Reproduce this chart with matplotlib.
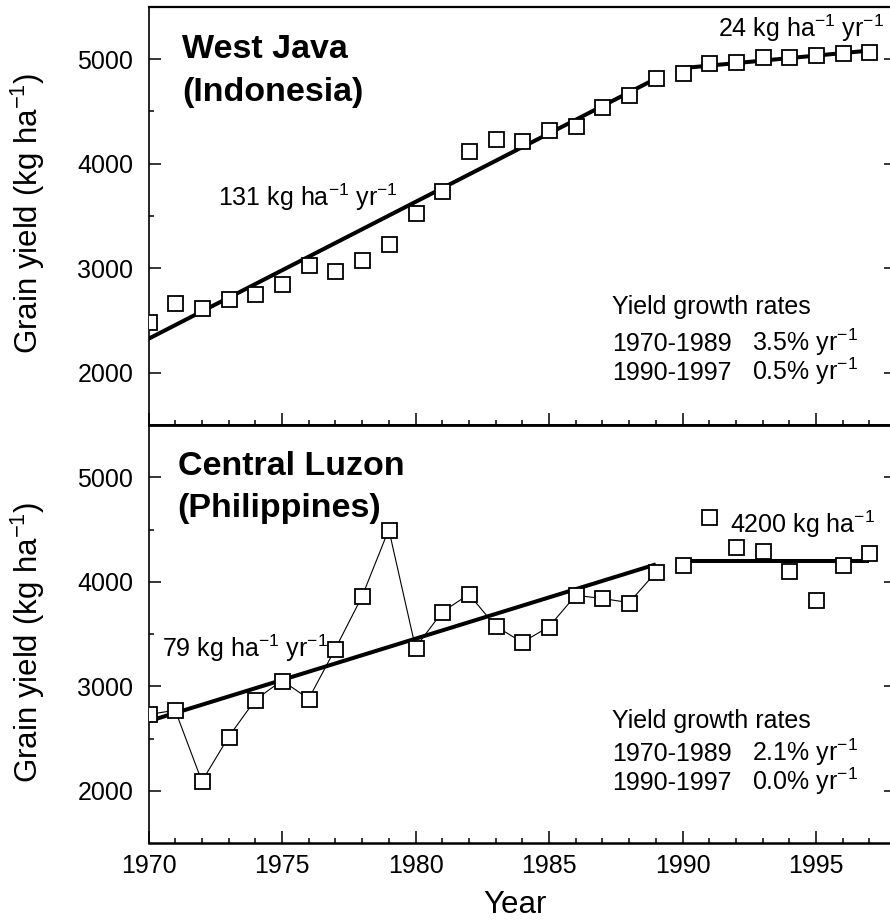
import matplotlib
matplotlib.use("Agg")
import matplotlib.pyplot as plt
from matplotlib.ticker import MultipleLocator, FixedLocator

plt.rcParams['font.family'] = ['Liberation Sans', 'DejaVu Sans']
plt.rcParams['mathtext.fontset'] = 'custom'
plt.rcParams['mathtext.rm'] = 'Liberation Sans'
plt.rcParams['mathtext.it'] = 'Liberation Sans'
plt.rcParams['mathtext.default'] = 'regular'

# data
years = list(range(1970, 1998))

java_yield = [2490, 2670, 2620, 2710, 2750, 2850, 3030, 2970, 3080, 3230,
              3530, 3740, 4120, 4240, 4220, 4320, 4360, 4540, 4660, 4820,
              4870, 4960, 4970, 5020, 5020, 5040, 5060, 5070]
luzon_yield = [2730, 2770, 2090, 2515, 2870, 3055, 2880, 3360, 3860, 4500,
               3370, 3710, 3880, 3575, 3420, 3570, 3870, 3840, 3800, 4090,
               4165, 4620, 4330, 4290, 4105, 3830, 4165, 4275]

# fitted trends (start year, end year, value at start, slope per year)
java_trends = [(1970, 1989, 2325, 131), (1990, 1997, 4915, 24)]
luzon_trends = [(1970, 1989, 2665, 79), (1990, 1997, 4200, 0)]

fig = plt.figure(figsize=(8.9, 9.24), dpi=100)
W, H = 890.0, 924.0
x0 = 148.5
w = 747.6
ax1 = fig.add_axes([x0 / W, 1 - 425 / H, w / W, 418 / H])
ax2 = fig.add_axes([x0 / W, 1 - 843 / H, w / W, 418 / H])

fs_tick = 18
fs_note = 18


def style(ax, show_xlabels):
    ax.set_xlim(1970, 1998)
    ax.set_ylim(1500, 5500)
    ax.xaxis.set_major_locator(MultipleLocator(5))
    ax.xaxis.set_minor_locator(MultipleLocator(1))
    ax.yaxis.set_major_locator(FixedLocator([2000, 3000, 4000, 5000]))
    ax.yaxis.set_minor_locator(FixedLocator([2500, 3500, 4500]))
    ax.tick_params(which='both', direction='in', width=1.1, colors='black',
                   top=False, right=True, bottom=True, left=True)
    ax.tick_params(which='major', length=8.6)
    ax.tick_params(which='minor', length=3.8)
    ax.tick_params(axis='y', which='major', labelsize=fs_tick, pad=11)
    ax.tick_params(axis='x', which='major', labelsize=fs_tick, pad=8,
                   labelbottom=show_xlabels)
    for s in ax.spines.values():
        s.set_linewidth(1.2)
        s.set_color('black')


def draw(ax, yields, trends, connect):
    for (a, b, v0, slope) in trends:
        xs = [a, b]
        ys = [v0, v0 + slope * (b - a)]
        ax.plot(xs, ys, color='black', lw=2.9, solid_capstyle='butt', zorder=2)
    if connect:
        ax.plot(years[:20], yields[:20], color='black', lw=0.8, zorder=1)
    ax.plot(years, yields, linestyle='none', marker='s', markersize=10.8,
            markerfacecolor='white', markeredgecolor='black',
            markeredgewidth=1.3, zorder=3)


style(ax1, False)
style(ax2, True)
ax1.spines['bottom'].set_linewidth(2.0)
ax2.spines['top'].set_linewidth(2.0)
ax2.spines['bottom'].set_linewidth(1.8)
ax1.spines['top'].set_linewidth(1.6)

draw(ax1, java_yield, java_trends, False)
draw(ax2, luzon_yield, luzon_trends, True)

# panel titles
ax1.text(1971.27, 5010, 'West Java', fontsize=24.5, fontweight='bold', va='baseline')
ax1.text(1971.27, 4597, '(Indonesia)', fontsize=24.5, fontweight='bold', va='baseline')
ax2.text(1971.09, 5019, 'Central Luzon', fontsize=24.5, fontweight='bold', va='baseline')
ax2.text(1971.09, 4620, '(Philippines)', fontsize=24.5, fontweight='bold', va='baseline')

# slope labels
ax1.text(1972.6, 3600, '131 kg ha$^{-1}$ yr$^{-1}$', fontsize=fs_note, va='baseline')
ax1.text(1997.55, 5211, '24 kg ha$^{-1}$ yr$^{-1}$', fontsize=fs_note,
         va='baseline', ha='right')
ax2.text(1970.51, 3279, '79 kg ha$^{-1}$ yr$^{-1}$', fontsize=fs_note, va='baseline')
ax2.text(1991.78, 4468, '4200 kg ha$^{-1}$', fontsize=fs_note, va='baseline')

# growth rate boxes
col1, col2 = 1987.37, 1992.62
for ax, base, r1, r2 in [(ax1, (2565, 2211, 1933), '3.5', '0.5'),
                         (ax2, (2604, 2281, 2006), '2.1', '0.0')]:
    ax.text(col1, base[0], 'Yield growth rates', fontsize=fs_note, va='baseline')
    ax.text(col1, base[1], '1970-1989', fontsize=fs_note, va='baseline')
    ax.text(col2, base[1], r1 + '% yr$^{-1}$', fontsize=fs_note, va='baseline')
    ax.text(col1, base[2], '1990-1997', fontsize=fs_note, va='baseline')
    ax.text(col2, base[2], r2 + '% yr$^{-1}$', fontsize=fs_note, va='baseline')

# axis labels
fig.text(28 / W, 1 - 213 / H, 'Grain yield (kg ha$^{-1}$)', rotation=90,
         fontsize=22.5, ha='center', va='center')
fig.text(28 / W, 1 - 642 / H, 'Grain yield (kg ha$^{-1}$)', rotation=90,
         fontsize=22.5, ha='center', va='center')
fig.text(515 / W, 1 - 905 / H, 'Year', fontsize=22.5, ha='center', va='center')

fig.savefig('out.png', dpi=100)
